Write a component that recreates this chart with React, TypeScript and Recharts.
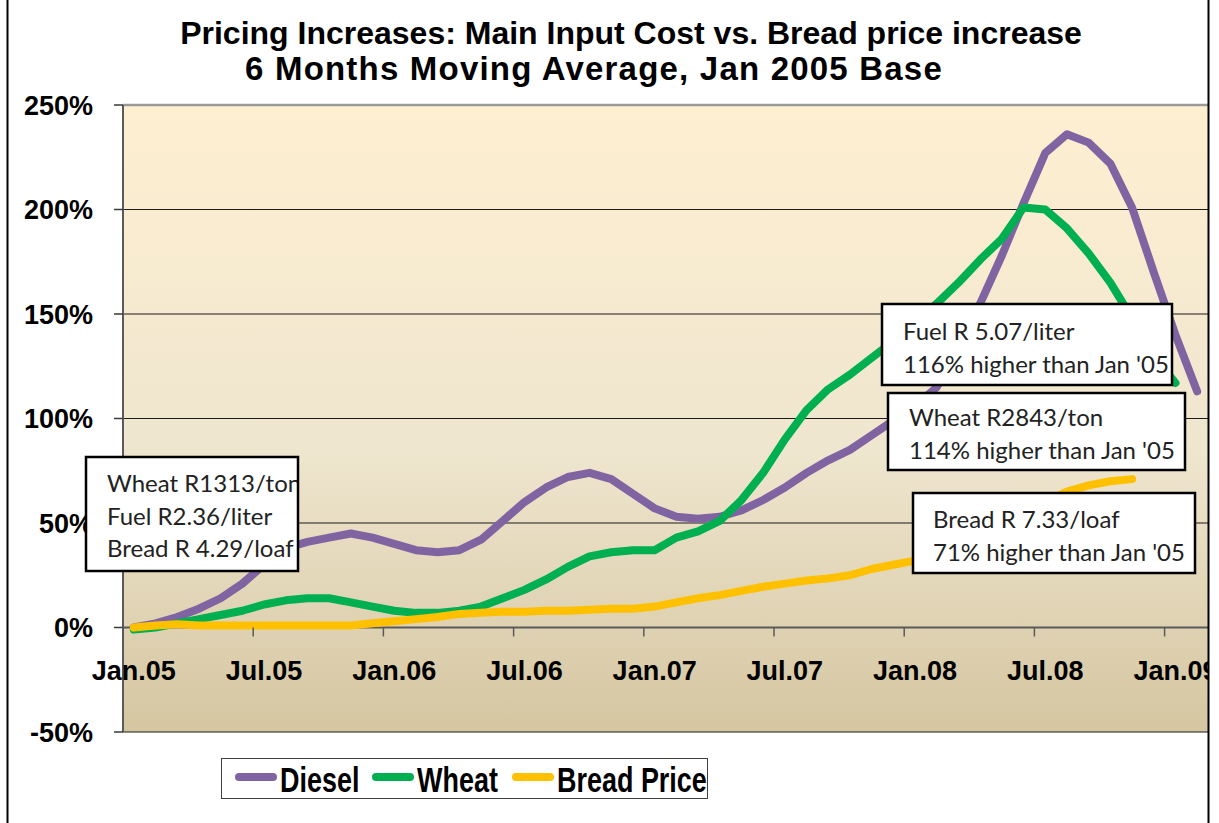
import React from 'react';
import { LineChart, Line, XAxis, YAxis, CartesianGrid, ReferenceLine, Legend } from 'recharts';

const monthLabels = [
  'Jan.05','Feb.05','Mar.05','Apr.05','May.05','Jun.05','Jul.05','Aug.05','Sep.05','Oct.05','Nov.05','Dec.05',
  'Jan.06','Feb.06','Mar.06','Apr.06','May.06','Jun.06','Jul.06','Aug.06','Sep.06','Oct.06','Nov.06','Dec.06',
  'Jan.07','Feb.07','Mar.07','Apr.07','May.07','Jun.07','Jul.07','Aug.07','Sep.07','Oct.07','Nov.07','Dec.07',
  'Jan.08','Feb.08','Mar.08','Apr.08','May.08','Jun.08','Jul.08','Aug.08','Sep.08','Oct.08','Nov.08','Dec.08',
  'Jan.09','Feb.09',
];

const dieselValues = [
  0, 2, 5, 9, 14, 21, 30, 38, 41, 43,
  45, 43, 40, 37, 36, 37, 42, 51, 60, 67,
  72, 74, 71, 64, 57, 53, 52, 53, 56, 61,
  67, 74, 80, 85, 92, 99, 106, 115, 135, 155,
  178, 203, 227, 236, 232, 222, 201, 170, 140, 113,
];

const wheatValues = [
  -1, 0, 2, 4, 6, 8, 11, 13, 14, 14,
  12, 10, 8, 7, 7, 8, 10, 14, 18, 23,
  29, 34, 36, 37, 37, 43, 46, 51, 61, 74,
  90, 104, 114, 121, 129, 137, 146, 155, 165, 176,
  186, 201, 200, 191, 179, 165, 148, 130, 117,
];

const breadValues = [
  0, 1, 1.5, 1, 1, 1, 1, 1, 1, 1,
  1, 2, 3, 4, 5, 6.5, 7, 7.5, 7.5, 8,
  8, 8.5, 9, 9, 10, 12, 14, 15.5, 17.5, 19.5,
  21, 22.5, 23.5, 25, 28, 30, 32, 36, 40, 45,
  50, 55, 60, 65, 68, 70, 71,
];

const yTicks = [-50, 0, 50, 100, 150, 200, 250];
const xTickIndexes = [0, 6, 12, 18, 24, 30, 36, 42, 48];

const seriesInfo = [
  { key: 'diesel', name: 'Diesel', color: '#8064A2' },
  { key: 'wheat', name: 'Wheat', color: '#00B050' },
  { key: 'bread', name: 'Bread Price', color: '#FFC000' },
];

const data = monthLabels.map((m, i) => ({
  idx: i,
  month: m,
  diesel: dieselValues[i],
  wheat: wheatValues[i],
  bread: breadValues[i],
}));

const W = 1219;
const H = 823;
const PLOT_LEFT = 123;
const PLOT_RIGHT = 1208;
const PLOT_TOP = 105;
const PLOT_BOTTOM = 732;
const PLOT_H = PLOT_BOTTOM - PLOT_TOP;
const ZERO_FROM_BOTTOM = (PLOT_H * 50) / 300;
const HALF_SLOT = (PLOT_RIGHT - PLOT_LEFT) / monthLabels.length / 2;
const X_AXIS_H = 30;
const LEGEND_H = 41;

const FONT = "'Liberation Sans', Arial, Helvetica, sans-serif";
const NOTE_FONT = "Lato, 'Open Sans', sans-serif";

const XTick = (props: any) => {
  const { x, y, payload } = props;
  const zeroY = y - ZERO_FROM_BOTTOM;
  return (
    <g>
      <line x1={x - HALF_SLOT} x2={x - HALF_SLOT} y1={zeroY} y2={zeroY + 9} stroke="#5a5a5a" strokeWidth={1.5} />
      <text x={x} y={zeroY + 52} textAnchor="middle" fontFamily={FONT} fontWeight="bold" fontSize={27} fill="#000">
        {monthLabels[payload.value]}
      </text>
    </g>
  );
};

const legendPos = [
  { line: 14, text: 59 },
  { line: 151, text: 196 },
  { line: 291, text: 336 },
];

const LegendBox = () => (
  <div
    style={{
      position: 'relative',
      width: 487,
      height: LEGEND_H,
      boxSizing: 'border-box',
      border: '1.5px solid #404040',
      background: '#fff',
      fontFamily: FONT,
      fontWeight: 'bold',
      fontSize: 35,
      color: '#000',
      whiteSpace: 'nowrap',
    }}
  >
    {seriesInfo.map((s, i) => (
      <React.Fragment key={s.key}>
        <div
          style={{
            position: 'absolute',
            left: legendPos[i].line - 1.5,
            top: 14,
            width: 42,
            height: 8,
            borderRadius: 4,
            background: s.color,
          }}
        />
        <span
          style={{
            position: 'absolute',
            left: legendPos[i].text - 1.5,
            top: 1.5,
            lineHeight: '38px',
            display: 'inline-block',
            transform: 'scaleX(0.77)',
            transformOrigin: 'left center',
          }}
        >
          {s.name}
        </span>
      </React.Fragment>
    ))}
  </div>
);

type Note = { x: number; y: number; w: number; h: number; lines: string[]; tx: number; base: number };
const notes: Note[] = [
  { x: 86, y: 457, w: 212, h: 114, tx: 107, base: 492, lines: ['Wheat R1313/ton', 'Fuel R2.36/liter', 'Bread R 4.29/loaf'] },
  { x: 882, y: 304, w: 290, h: 81, tx: 903, base: 340, lines: ['Fuel R 5.07/liter', "116% higher than Jan '05"] },
  { x: 888, y: 393, w: 297, h: 77, tx: 909, base: 426, lines: ['Wheat R2843/ton', "114% higher than Jan '05"] },
  { x: 913, y: 493, w: 282, h: 80, tx: 933, base: 528, lines: ['Bread R 7.33/loaf', "71% higher than Jan '05"] },
];

export default function App() {
  return (
    <div style={{ position: 'absolute', left: 0, top: 0, width: W, height: H, background: '#fff', overflow: 'hidden' }}>
      <LineChart
        width={W}
        height={H}
        data={data}
        margin={{ top: PLOT_TOP, right: W - PLOT_RIGHT, bottom: H - PLOT_BOTTOM - X_AXIS_H - LEGEND_H, left: 0 }}
      >
        <defs>
          <linearGradient id="plotBg" x1="0" y1="0" x2="0" y2="1">
            <stop offset="0%" stopColor="#FEEFD1" />
            <stop offset="55%" stopColor="#EFE6CF" />
            <stop offset="100%" stopColor="#D5C6A1" />
          </linearGradient>
        </defs>
        <CartesianGrid vertical={false} stroke="#1a1a1a" strokeWidth={1.2} fill="url(#plotBg)" fillOpacity={1} />
        <XAxis
          dataKey="idx"
          type="number"
          domain={[-0.5, monthLabels.length - 0.5]}
          ticks={xTickIndexes}
          interval={0}
          height={X_AXIS_H}
          axisLine={false}
          tickLine={false}
          tickSize={0}
          tickMargin={0}
          tick={<XTick />}
          allowDataOverflow
        />
        <YAxis
          type="number"
          domain={[-50, 250]}
          ticks={yTicks}
          interval={0}
          width={PLOT_LEFT}
          tickFormatter={(v: number) => `${v}%`}
          tickSize={9}
          tickMargin={21}
          axisLine={{ stroke: '#5a5a5a', strokeWidth: 2 }}
          tickLine={{ stroke: '#3a3a3a', strokeWidth: 1.5 }}
          tick={{ fontFamily: FONT, fontWeight: 'bold', fontSize: 27, fill: '#000' }}
          allowDataOverflow
        />
        <ReferenceLine y={250} stroke="#9a9a9a" strokeWidth={2.5} />
        <ReferenceLine y={0} stroke="#5a5a5a" strokeWidth={2} />
        <Legend
          verticalAlign="bottom"
          content={<LegendBox />}
          wrapperStyle={{ position: 'absolute', left: 221, top: 758, width: 487, height: LEGEND_H, bottom: 'auto' }}
        />
        {seriesInfo.map((s) => (
          <Line
            key={s.key}
            type="linear"
            dataKey={s.key}
            name={s.name}
            stroke={s.color}
            strokeWidth={8}
            strokeLinecap="round"
            strokeLinejoin="round"
            dot={false}
            activeDot={false}
            isAnimationActive={false}
            connectNulls={false}
          />
        ))}
      </LineChart>
      <svg width={W} height={H} style={{ position: 'absolute', left: 0, top: 0, pointerEvents: 'none' }}>
        <text x={631} y={44} textAnchor="middle" fontFamily={FONT} fontWeight="bold" fontSize={32} fill="#000">
          Pricing Increases: Main Input Cost vs. Bread price increase
        </text>
        <text x={594} y={80} textAnchor="middle" fontFamily={FONT} fontWeight="bold" fontSize={33} letterSpacing={1.2} fill="#000">
          6 Months Moving Average, Jan 2005 Base
        </text>
        {notes.map((n, i) => (
          <g key={i}>
            <clipPath id={`noteclip${i}`}>
              <rect x={n.x} y={n.y} width={n.w} height={n.h} />
            </clipPath>
            <rect x={n.x} y={n.y} width={n.w} height={n.h} fill="#fff" stroke="none" />
            <g clipPath={`url(#noteclip${i})`}>
              {n.lines.map((l, j) => (
                <text key={j} x={n.tx} y={n.base + j * 32.5} fontFamily={NOTE_FONT} fontSize={24} fill="#222">
                  {l}
                </text>
              ))}
            </g>
            <rect x={n.x} y={n.y} width={n.w} height={n.h} fill="none" stroke="#000" strokeWidth={2.5} />
          </g>
        ))}
        <line x1={7.5} x2={7.5} y1={0} y2={H} stroke="#000" strokeWidth={2} />
        <rect x={1209} y={0} width={W - 1209} height={H} fill="#fff" />
        <line x1={1208.5} x2={1208.5} y1={0} y2={H} stroke="#000" strokeWidth={2} />
      </svg>
    </div>
  );
}
